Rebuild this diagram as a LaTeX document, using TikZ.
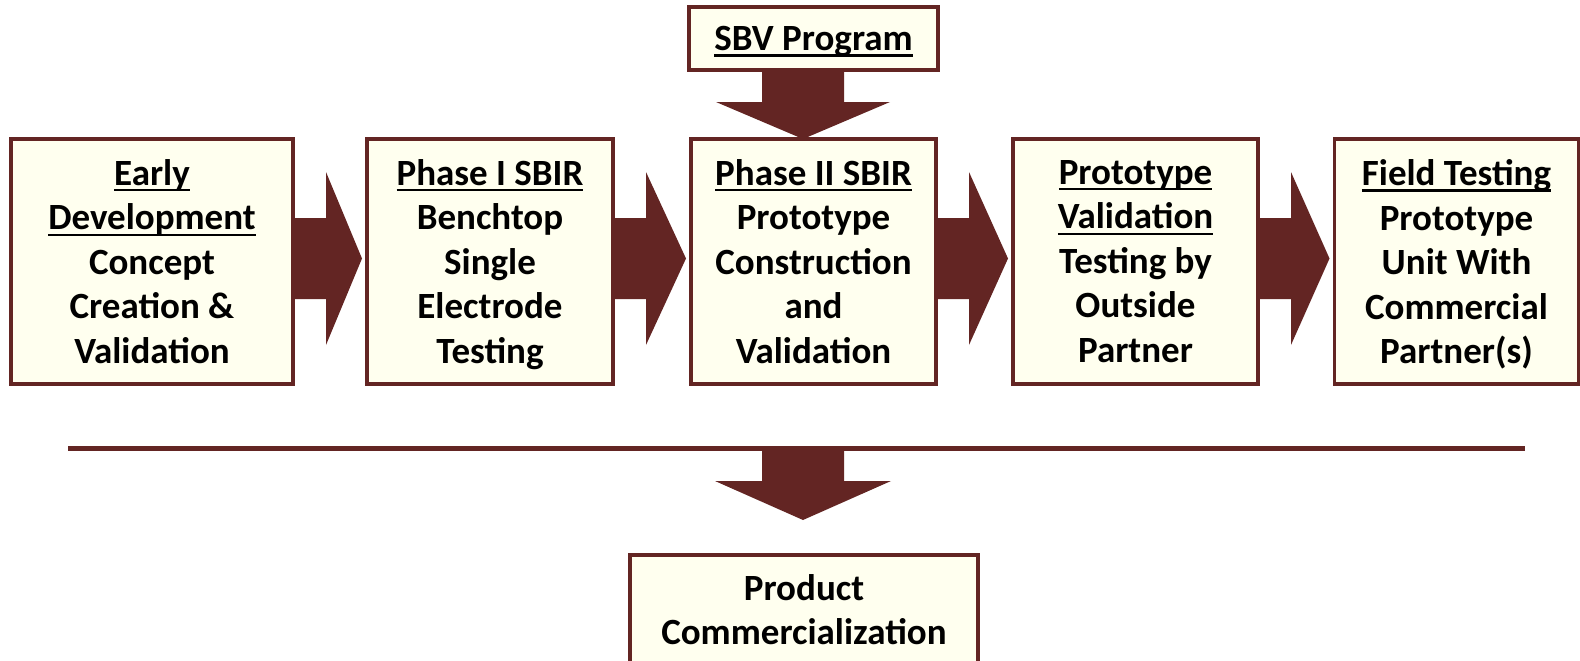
\documentclass[tikz,border=0pt]{standalone}
\usepackage{fontspec}
\setmainfont{Carlito}
\usetikzlibrary{calc}
\definecolor{maroon}{HTML}{632523}
\definecolor{ivory}{HTML}{FFFFEF}
% underline at a fixed depth below the baseline
\newcommand\ulx[1]{\setbox0\hbox{#1}\rlap{\rule[-6pt]{\wd0}{2.2pt}}\box0}
% keep the height of a line but drop its depth, so all stages centre alike
\newcommand\nodp[1]{\raisebox{0pt}[\height][0pt]{#1}}
% block arrow from the right side of one stage to the left side of the next
\newcommand\harrow[2]{%
  \fill[arr] let \p1=(#1.east), \p2=(#2.west) in
    (\x1-2pt,\y1+43.5pt) -- (\x1+33pt,\y1+43.5pt) -- (\x1+33pt,\y1+89.5pt)
    -- (\x2-5pt,\y1+3pt)
    -- (\x1+33pt,\y1-83.5pt) -- (\x1+33pt,\y1-37.5pt) -- (\x1-2pt,\y1-37.5pt) -- cycle;}
\begin{document}
\begin{tikzpicture}[x=1pt,y=-1pt,
  stage/.style={draw=maroon, fill=ivory, line width=3.5pt, outer sep=0pt, inner sep=0pt,
    align=center, font=\fontsize{37}{44.5}\selectfont\bfseries},
  arr/.style={fill=maroon}]
\useasboundingbox (0,0) rectangle (1580,661);

% stages
\node[stage, minimum width=282, minimum height=245] (b1) at (152,261.5)
  {\ulx{Early}\\\ulx{Development}\\Concept\\Creation \&\\Validation};
\node[stage, minimum width=246, minimum height=245] (b2) at (490,261.5)
  {\ulx{Phase I SBIR}\\Benchtop\\Single\\Electrode\\\nodp{Testing}};
\node[stage, minimum width=245, minimum height=245] (b3) at (813.5,261.5)
  {\ulx{Phase II SBIR}\\Prototype\\Construction\\and\\Validation};
\node[stage, minimum width=245, minimum height=245] (b4) at (1135.5,261.5)
  {\ulx{Prototype}\\\ulx{Validation}\\Testing by\\Outside\\Partner};
\node[stage, minimum width=244, minimum height=245] (b5) at (1456.5,261.5)
  {\ulx{Field Testing}\\Prototype\\Unit With\\Commercial\\\nodp{Partner(s)}};

\node[stage, minimum width=249, minimum height=63] (sbv) at (813.5,38.5)
  {\nodp{\ulx{SBV Program}}};
\node[stage, minimum width=348, minimum height=109] (prod) at (804,609.5)
  {Product\\Commercialization};

% arrows between stages
\harrow{b1}{b2}
\harrow{b2}{b3}
\harrow{b3}{b4}
\harrow{b4}{b5}

% SBV program feeding phase II
\fill[arr] let \p1=(sbv.south), \p2=(b3.north) in
  (\x2-51.5pt,\y1) -- (\x2-51.5pt,\y1-32pt) -- (\x2-97.5pt,\y1-32pt)
  -- (\x2-10.5pt,\y2)
  -- (\x2+76.5pt,\y1-32pt) -- (\x2+30.5pt,\y1-32pt) -- (\x2+30.5pt,\y1) -- cycle;

% dividing line and arrow to commercialization
\coordinate (L) at (68,448.5);
\coordinate (R) at (1525,448.5);
\coordinate (M) at (803,448.5);
\draw[maroon, line width=5pt] (L) -- (R);
\fill[arr] let \p1=(M), \p2=(prod.north) in
  (\x1-41pt,\y1) -- (\x1-41pt,\y1-32.5pt) -- (\x1-88pt,\y1-32.5pt)
  -- (\x1,\y2+35pt)
  -- (\x1+88pt,\y1-32.5pt) -- (\x1+41pt,\y1-32.5pt) -- (\x1+41pt,\y1) -- cycle;
\end{tikzpicture}
\end{document}
